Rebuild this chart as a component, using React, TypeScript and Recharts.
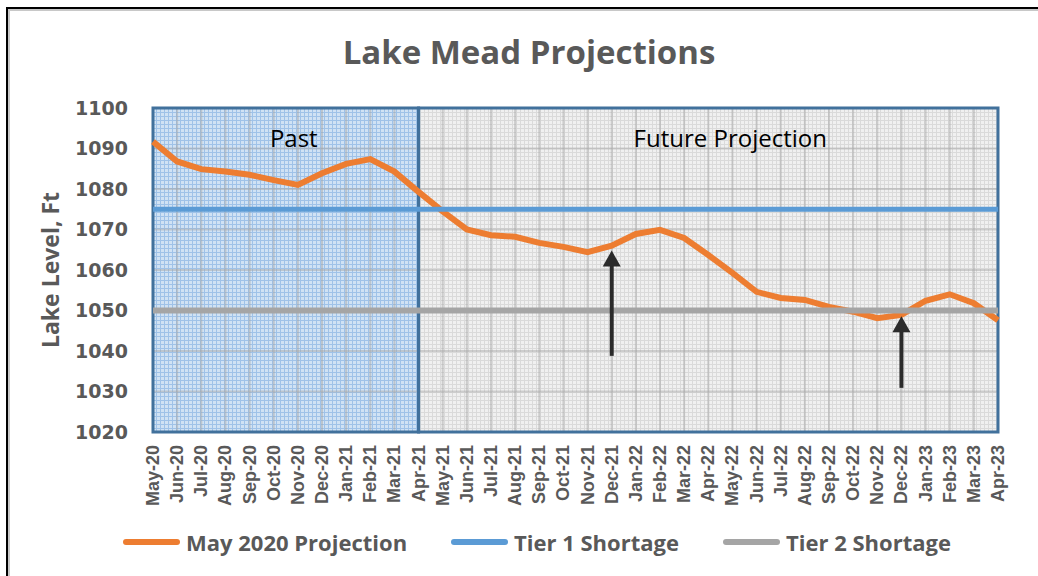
import React from 'react';
import { LineChart, Line, XAxis, YAxis, CartesianGrid, Legend, ReferenceArea, ReferenceLine } from 'recharts';

const months = [
  'May-20', 'Jun-20', 'Jul-20', 'Aug-20', 'Sep-20', 'Oct-20', 'Nov-20', 'Dec-20',
  'Jan-21', 'Feb-21', 'Mar-21', 'Apr-21', 'May-21', 'Jun-21', 'Jul-21', 'Aug-21',
  'Sep-21', 'Oct-21', 'Nov-21', 'Dec-21', 'Jan-22', 'Feb-22', 'Mar-22', 'Apr-22',
  'May-22', 'Jun-22', 'Jul-22', 'Aug-22', 'Sep-22', 'Oct-22', 'Nov-22', 'Dec-22',
  'Jan-23', 'Feb-23', 'Mar-23', 'Apr-23',
];

const projection = [
  1091.7, 1086.8, 1084.9, 1084.3, 1083.5, 1082.2, 1081.0, 1083.9, 1086.2, 1087.4, 1084.3, 1079.3,
  1074.5, 1070.0, 1068.6, 1068.2, 1066.7, 1065.7, 1064.4, 1066.0, 1068.9, 1069.9, 1067.9, 1063.7,
  1059.3, 1054.6, 1053.1, 1052.6, 1050.9, 1049.7, 1048.1, 1048.9, 1052.4, 1054.0, 1051.8, 1047.6,
];

const tier1 = [
  1075, 1075, 1075, 1075, 1075, 1075, 1075, 1075, 1075, 1075, 1075, 1075,
  1075, 1075, 1075, 1075, 1075, 1075, 1075, 1075, 1075, 1075, 1075, 1075,
  1075, 1075, 1075, 1075, 1075, 1075, 1075, 1075, 1075, 1075, 1075, 1075,
];

const tier2 = [
  1050, 1050, 1050, 1050, 1050, 1050, 1050, 1050, 1050, 1050, 1050, 1050,
  1050, 1050, 1050, 1050, 1050, 1050, 1050, 1050, 1050, 1050, 1050, 1050,
  1050, 1050, 1050, 1050, 1050, 1050, 1050, 1050, 1050, 1050, 1050, 1050,
];

const yTicks = [1020, 1030, 1040, 1050, 1060, 1070, 1080, 1090, 1100];

// shaded periods
const periodNames = ['Past', 'Future Projection'];
const periodStart = ['May-20', 'Apr-21'];
const periodEnd = ['Apr-21', 'Apr-23'];
const periodFill = ['url(#pastPat)', 'url(#futurePat)'];
const periodLabelShift = [8, 22];

// annotation arrows
const arrowMonths = ['Dec-21', 'Dec-22'];
const arrowBase = [1038.8, 1030.9];
const arrowTip = [1064.8, 1048.6];

const data = months.map((m, i) => ({
  month: m,
  projection: projection[i],
  tier1: tier1[i],
  tier2: tier2[i],
}));

const GRAY = '#595959';
const BORDER = '#41719c';

const XTick = ({ x, y, payload }: any) => (
  <text
    x={x}
    y={y}
    transform={`rotate(-90 ${x} ${y})`}
    textAnchor="end"
    dominantBaseline="central"
    fill={GRAY}
    fontFamily="'Liberation Sans', Arial, sans-serif"
    fontWeight="bold"
    fontSize={18}
  >
    {payload.value}
  </text>
);

const YLabel = ({ viewBox }: any) => {
  const cx = viewBox.x + 50;
  const cy = viewBox.y + viewBox.height / 2;
  return (
    <text
      x={cx}
      y={cy}
      transform={`rotate(-90 ${cx} ${cy})`}
      textAnchor="middle"
      dominantBaseline="central"
      fill={GRAY}
      fontFamily="'Open Sans', sans-serif"
      fontWeight="bold"
      fontSize={23}
    >
      Lake Level, Ft
    </text>
  );
};

const Arrow = (props: any) => {
  const { x1, y1, x2, y2 } = props;
  return (
    <g>
      <line x1={x1} y1={y1} x2={x2} y2={y2 + 12} stroke="#2b2b2b" strokeWidth={4} />
      <polygon points={`${x2},${y2} ${x2 - 9},${y2 + 16} ${x2 + 9},${y2 + 16}`} fill="#2b2b2b" />
    </g>
  );
};

const renderLegend = ({ payload }: any) => {
  const widths = [328, 272, 240];
  return (
    <div style={{ display: 'flex', paddingLeft: 123, height: 28, alignItems: 'center' }}>
      {(payload || []).map((p: any, i: number) => (
        <div key={p.value} style={{ display: 'flex', alignItems: 'center', width: widths[i] }}>
          <span
            style={{
              display: 'inline-block',
              width: 57,
              height: 6,
              borderRadius: 3,
              background: p.color,
              marginRight: 6,
            }}
          />
          <span
            style={{
              color: GRAY,
              fontFamily: "'Open Sans', sans-serif",
              fontWeight: 'bold',
              fontSize: 22,
              whiteSpace: 'nowrap',
            }}
          >
            {p.value}
          </span>
        </div>
      ))}
    </div>
  );
};

export default function App() {
  return (
    <div
      style={{
        position: 'fixed',
        left: 0,
        top: 0,
        width: 1038,
        height: 576,
        overflow: 'hidden',
        background: '#fff',
      }}
    >
      <div
        style={{
          position: 'absolute',
          left: 6,
          top: 7,
          width: 1100,
          height: 700,
          border: '2px solid #000',
          boxShadow: 'inset 2px 2px 0 #c8c8c8',
        }}
      />
      <div
        style={{
          position: 'absolute',
          left: 20,
          width: 1018,
          top: 33,
          textAlign: 'center',
          fontFamily: "'Open Sans', sans-serif",
          fontWeight: 'bold',
          fontSize: 33,
          lineHeight: '38px',
          color: GRAY,
        }}
      >
        Lake Mead Projections
      </div>
      <div style={{ position: 'absolute', left: 0, top: 0 }}>
        <LineChart width={1038} height={576} data={data} margin={{ top: 108, right: 40, bottom: 36, left: 0 }}>
          <defs>
            <pattern id="pastPat" width="4" height="4" patternUnits="userSpaceOnUse">
              <rect width="4" height="4" fill="#d0e2f4" />
              <path d="M0 0.5H4M0.5 0V4" stroke="#9fc2e8" strokeWidth="1" />
            </pattern>
            <pattern id="futurePat" width="4" height="4" patternUnits="userSpaceOnUse">
              <rect width="4" height="4" fill="#f0f0f0" />
              <path d="M0 0.5H4M0.5 0V4" stroke="#dadada" strokeWidth="1" />
            </pattern>
          </defs>
          {periodNames.map((name, i) => (
            <ReferenceArea
              key={'fill' + name}
              x1={periodStart[i]}
              x2={periodEnd[i]}
              fill={periodFill[i]}
              fillOpacity={1}
              stroke="none"
              zIndex={-200}
            />
          ))}
          <CartesianGrid stroke="#a8a8a8" strokeOpacity={0.5} strokeWidth={2} />
          {periodNames.map((name, i) => (
            <ReferenceArea
              key={'box' + name}
              x1={periodStart[i]}
              x2={periodEnd[i]}
              fill="none"
              fillOpacity={0}
              stroke={BORDER}
              strokeWidth={3}
              zIndex={-50}
              label={(lp: any) => {
                const vb = lp.viewBox;
                return (
                  <text
                    x={vb.x + vb.width / 2 + periodLabelShift[i]}
                    y={vb.y + 39}
                    textAnchor="middle"
                    fill="#000"
                    fontFamily="'Open Sans', sans-serif"
                    fontSize={24}
                  >
                    {name}
                  </text>
                );
              }}
            />
          ))}
          <XAxis
            dataKey="month"
            scale="point"
            interval={0}
            height={80}
            axisLine={false}
            tickLine={false}
            tickMargin={7}
            tick={<XTick />}
          />
          <YAxis
            width={153}
            domain={[1020, 1100]}
            ticks={yTicks}
            axisLine={false}
            tickLine={false}
            tickMargin={19}
            tick={{ fill: GRAY, fontSize: 19, fontWeight: 'bold', fontFamily: "'DejaVu Sans', sans-serif" }}
            label={<YLabel />}
          />
          <Legend
            verticalAlign="bottom"
            content={renderLegend}
            wrapperStyle={{ top: 528, left: 0, width: 1038, height: 28 }}
          />
          <Line
            dataKey="projection"
            name="May 2020 Projection"
            stroke="#ed7d31"
            strokeWidth={6}
            dot={false}
            isAnimationActive={false}
          />
          <Line
            dataKey="tier1"
            name="Tier 1 Shortage"
            stroke="#5b9bd5"
            strokeWidth={5}
            dot={false}
            isAnimationActive={false}
          />
          <Line
            dataKey="tier2"
            name="Tier 2 Shortage"
            stroke="#a5a5a5"
            strokeWidth={6}
            dot={false}
            isAnimationActive={false}
          />
          {arrowMonths.map((m, i) => (
            <ReferenceLine
              key={'arrow' + m}
              segment={[
                { x: m, y: arrowBase[i] },
                { x: m, y: arrowTip[i] },
              ]}
              stroke="#2b2b2b"
              zIndex={450}
              shape={<Arrow />}
            />
          ))}
        </LineChart>
      </div>
    </div>
  );
}
